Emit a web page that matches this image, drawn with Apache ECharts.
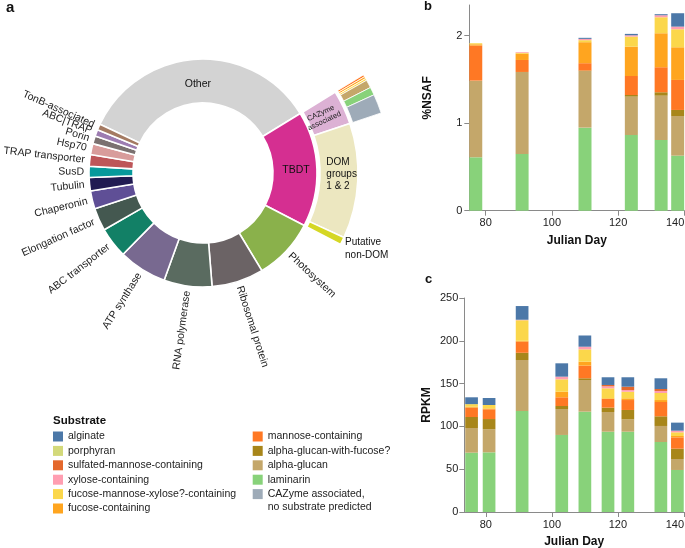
<!DOCTYPE html>
<html><head><meta charset="utf-8">
<script src="https://cdn.jsdelivr.net/npm/echarts@6/dist/echarts.min.js"></script>
<style>html,body{margin:0;padding:0;background:#fff}#c{width:685px;height:548px}</style>
</head><body><div id="c"></div>
<script>
// ---------- Panel a: protein categories (share of %NSAF) ----------
const categories = ['Other','TBDT','Photosystem','Ribosomal protein','RNA polymerase','ATP synthase','ABC transporter','Elongation factor','Chaperonin','Tubulin','SusD','TRAP transporter','Hsp70','Porin','ABC|TRAP','TonB-associated'];
const categoryShare = [34.24,16.36,8.75,7.36,6.81,6.83,4.33,3.22,2.56,1.89,1.58,1.64,1.56,1.11,0.94,0.83];
const categoryColors = ['#d3d3d3','#d52f91','#8ab14b','#6b6365','#5a6b60','#786990','#128066','#445850','#5f4f96','#211b52','#07999b','#bd5659','#d89c9b','#7b7170','#9d7cb1','#a47a62'];
const tbdtGroups = ['CAZyme\nassociated','DOM\ngroups\n1 & 2','Putative\nnon-DOM'];
const tbdtShare = [3.56,12.0,0.8];
const tbdtColors = ['#dcb1d4','#ece7c0','#d5d724'];
const cazymeSubstrates = ['mannose-containing','fucose-containing','fucose-mannose-xylose?-containing','alpha-glucan','laminarin','CAZyme associated, no substrate predicted'];
const cazymeShare = [0.18,0.18,0.17,0.69,0.69,1.65];

// ---------- Substrates (panels b, c) ----------
const substrates = ['laminarin','alpha-glucan','alpha-glucan-with-fucose?','mannose-containing','fucose-containing','fucose-mannose-xylose?-containing','xylose-containing','sulfated-mannose-containing','porphyran','CAZyme associated, no substrate predicted','alginate'];
const substrateColors = ['#88d27a','#c4a76a','#a8861a','#ff7824','#ffa51f','#fbd74b','#ff9eb1','#e4682d','#d3d97a','#9eabb8','#4c78a8'];

const daysB = [77,91,110,124,133,138];
const nsaf = {
  'laminarin':                          [0.61,0.648,0.949,0.865,0.808,0.629],
  'alpha-glucan':                       [0.876,0.937,0.647,0.438,0.506,0.453],
  'alpha-glucan-with-fucose?':          [0,0,0.005,0.019,0.039,0.069],
  'mannose-containing':                 [0.40,0.137,0.084,0.217,0.286,0.343],
  'fucose-containing':                  [0.015,0.072,0.24,0.335,0.388,0.373],
  'fucose-mannose-xylose?-containing':  [0.012,0.01,0.023,0.115,0.183,0.206],
  'xylose-containing':                  [0,0.008,0.015,0.015,0.023,0.03],
  'sulfated-mannose-containing':        [0,0,0,0,0,0],
  'porphyran':                          [0,0,0,0,0,0],
  'CAZyme associated, no substrate predicted': [0,0,0,0,0,0],
  'alginate':                           [0,0,0.012,0.016,0.012,0.153]
};

const daysC = [75.7,81,91,103,110,117,123,133,138];
const rpkm = {
  'laminarin':                          [69.3,69.7,118,90,117.2,93.8,93.8,81.8,49.1],
  'alpha-glucan':                       [28.8,26.9,59.6,30.3,37,23,14.4,18.7,12.8],
  'alpha-glucan-with-fucose?':          [12.9,12,8.4,3.5,2,5.1,11,11.3,12.1],
  'mannose-containing':                 [10.9,11.4,13,10.2,14.8,10.1,11.6,16.7,13.2],
  'fucose-containing':                  [1.1,1,1,6.5,4.6,0.8,2,2.3,1.6],
  'fucose-mannose-xylose?-containing':  [3,4,24,14.5,14.4,11.7,7.7,8.2,4.3],
  'xylose-containing':                  [0,0,0.6,3.1,3.1,2.3,2,2.4,1.9],
  'sulfated-mannose-containing':        [0,0,0,0,0,1.6,3.9,2.3,0],
  'porphyran':                          [0,0,0,0,0,0,0,0,0],
  'CAZyme associated, no substrate predicted': [0,0,0,0,0,0,0,0,0],
  'alginate':                           [8,8.2,16,15.6,13.1,9,11,12.5,9.4]
};

const xTicks = [80,100,120,140];
const nsafTicks = [0,1,2];
const legendCol1 = ['alginate','porphyran','sulfated-mannose-containing','xylose-containing','fucose-mannose-xylose?-containing','fucose-containing'];
const legendCol2 = ['mannose-containing','alpha-glucan-with-fucose?','alpha-glucan','laminarin','CAZyme associated, no substrate predicted'];

// ---------- build ----------
const FONT = 'Liberation Sans, Arial, sans-serif';
const colorOf = n => substrateColors[substrates.indexOf(n)];
const sum = a => a.reduce((s, v) => s + v, 0);
const total = sum(categoryShare);
const blank = v => ({ value: v, name: '', itemStyle: { color: 'rgba(0,0,0,0)', borderWidth: 0 }, label: { show: false }, silent: true });

const ring1 = categories.map((n, i) => {
  const d = { name: n, value: categoryShare[i], itemStyle: { color: categoryColors[i] } };
  if (n === 'Other') d.label = { position: 'inside', rotate: 0, color: '#111', lineHeight: 12, formatter: '\n{b}' };
  if (n === 'TBDT') d.label = { position: 'inside', rotate: 0, color: '#111', padding: [6, 4, 0, 0] };
  return d;
});
const ring2 = [blank(categoryShare[0])].concat(tbdtGroups.map((n, i) => {
  const d = { name: n, value: tbdtShare[i], itemStyle: { color: tbdtColors[i] } };
  if (i === 0) d.label = { position: 'inside', rotate: 'radial', fontSize: 7.5, lineHeight: 8.5, color: '#222', padding: [0, 14, 0, 0] };
  if (i === 1) d.label = { position: 'inside', rotate: 0, color: '#111', padding: [0, 0, 12, 0],
    formatter: p => p.name.split('\n').map(s => '{t|' + s + '}').join('\n'),
    rich: { t: { width: 31, align: 'left', fontSize: 10, lineHeight: 12.2, color: '#111', fontFamily: FONT } } };
  if (i === 2) d.label = { position: 'outside', rotate: 0, fontSize: 10, lineHeight: 12.5, color: '#111', formatter: '\n{b}' };
  return d;
})).concat([blank(total - categoryShare[0] - sum(tbdtShare))]);
const ring3 = [blank(categoryShare[0])].concat(cazymeSubstrates.map((n, i) => ({
  name: n, value: cazymeShare[i], itemStyle: { color: colorOf(n) }
}))).concat([blank(total - categoryShare[0] - sum(cazymeShare))]);

const CENTER = [203, 173];
const START = 154.7;

const axisCommon = {
  axisLine: { show: true, lineStyle: { color: '#8a8a8a', width: 1 } },
  axisTick: { show: true, length: 5, lineStyle: { color: '#8a8a8a' } },
  splitLine: { show: false },
  axisLabel: { color: '#222', fontSize: 11, fontFamily: FONT },
  nameTextStyle: { color: '#111', fontSize: 12, fontWeight: 'bold', fontFamily: FONT }
};
function xAx(grid, min, gap) {
  return Object.assign({}, axisCommon, {
    gridIndex: grid, type: 'value', min: min, max: 140,
    axisTick: Object.assign({}, axisCommon.axisTick, { customValues: xTicks }),
    axisLabel: Object.assign({}, axisCommon.axisLabel, { customValues: xTicks, margin: 7, alignMaxLabel: 'right' }),
    name: 'Julian Day', nameLocation: 'middle', nameGap: gap
  });
}

const series = [
  { type: 'pie', center: CENTER, radius: [70, 114], startAngle: START, clockwise: true,
    avoidLabelOverlap: false, animation: false, emphasis: { disabled: true },
    labelLayout: { hideOverlap: false },
    itemStyle: { borderColor: '#fff', borderWidth: 1.6 },
    label: { show: true, position: 'outside', rotate: 'radial', fontSize: 10.5, fontFamily: FONT, color: '#222', distanceToLabelLine: 0 },
    labelLine: { show: false, length: 5, length2: 0 },
    data: ring1 },
  { type: 'pie', center: CENTER, radius: [117, 155], startAngle: START, clockwise: true,
    avoidLabelOverlap: false, animation: false, emphasis: { disabled: true },
    labelLayout: { hideOverlap: false },
    itemStyle: { borderColor: '#fff', borderWidth: 1.6 },
    label: { show: true, fontFamily: FONT, distanceToLabelLine: 0 },
    labelLine: { show: false, length: 3, length2: 0 },
    data: ring2 },
  { type: 'pie', center: CENTER, radius: [158, 188], startAngle: START, clockwise: true,
    avoidLabelOverlap: false, animation: false, emphasis: { disabled: true },
    itemStyle: { borderColor: '#fff', borderWidth: 0.8 },
    label: { show: false }, labelLine: { show: false },
    data: ring3 }
];
// value dimension first so that the stack is applied to it; day goes to x
substrates.forEach(n => {
  series.push({ type: 'bar', name: n, xAxisIndex: 0, yAxisIndex: 0, stack: 'b', barWidth: 13,
    encode: { x: 1, y: 0 },
    itemStyle: { color: colorOf(n) }, emphasis: { disabled: true },
    data: daysB.map((d, i) => [nsaf[n][i], d]) });
});
substrates.forEach(n => {
  series.push({ type: 'bar', name: n, xAxisIndex: 1, yAxisIndex: 1, stack: 'c', barWidth: 12.7,
    encode: { x: 1, y: 0 },
    itemStyle: { color: colorOf(n) }, emphasis: { disabled: true },
    data: daysC.map((d, i) => [rpkm[n][i], d]) });
});

const legendBase = {
  orient: 'vertical', itemWidth: 10, itemHeight: 10, itemGap: 3.4, icon: 'rect',
  textStyle: { fontSize: 10.5, color: '#222', fontFamily: FONT }, selectedMode: false,
  height: 112
};

const option = {
  animation: false,
  textStyle: { fontFamily: FONT },
  grid: [
    { left: 469.3, right: 0.7, top: 5, bottom: 337.3, outerBoundsMode: 'none', containLabel: false },
    { left: 464.3, right: 1, top: 298, bottom: 36, outerBoundsMode: 'none', containLabel: false }
  ],
  xAxis: [ xAx(0, 75.05, 24), xAx(1, 73.5, 23.7) ],
  yAxis: [
    Object.assign({}, axisCommon, { gridIndex: 0, type: 'value', min: 0, max: 2.35,
      axisTick: Object.assign({}, axisCommon.axisTick, { customValues: nsafTicks }),
      axisLabel: Object.assign({}, axisCommon.axisLabel, { customValues: nsafTicks, margin: 7 }),
      name: '%NSAF', nameLocation: 'middle', nameGap: 36,
      nameTextStyle: Object.assign({}, axisCommon.nameTextStyle, { padding: [0, 0, 0, 20] }) }),
    Object.assign({}, axisCommon, { gridIndex: 1, type: 'value', min: 0, max: 250, interval: 50,
      axisLabel: Object.assign({}, axisCommon.axisLabel, { margin: 6 }),
      name: 'RPKM', nameLocation: 'middle', nameGap: 31.5 })
  ],
  legend: [
    Object.assign({}, legendBase, { left: 48, top: 426, data: legendCol1 }),
    Object.assign({}, legendBase, { left: 247.7, top: 426, data: legendCol2,
      formatter: n => n.startsWith('CAZyme') ? 'CAZyme associated,' : n })
  ],
  graphic: [
    { type: 'text', left: 6, top: 0, style: { text: 'a', font: 'bold 15px ' + FONT, fill: '#111' } },
    { type: 'text', left: 424, top: 0, style: { text: 'b', font: 'bold 13px ' + FONT, fill: '#111' } },
    { type: 'text', left: 425, top: 273, style: { text: 'c', font: 'bold 13px ' + FONT, fill: '#111' } },
    { type: 'text', left: 53, top: 415, style: { text: 'Substrate', font: 'bold 11.5px ' + FONT, fill: '#111' } },
    { type: 'text', left: 267.7, top: 502, style: { text: 'no substrate predicted', font: '10.5px ' + FONT, fill: '#222' } }
  ],
  series: series
};
const chart = echarts.init(document.getElementById('c'));
chart.setOption(option);
</script></body></html>
